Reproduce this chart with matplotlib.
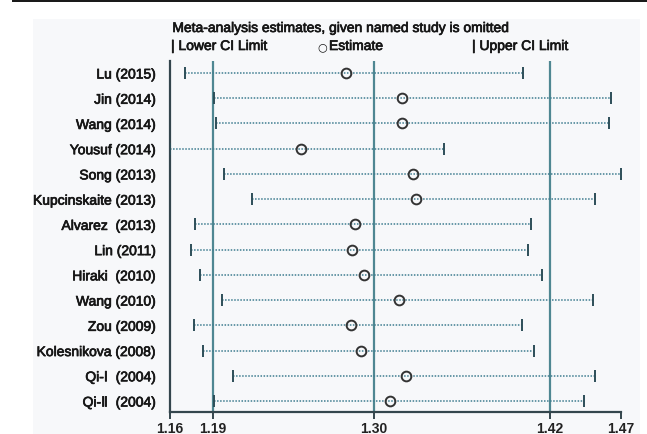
import matplotlib
matplotlib.use("Agg")
import matplotlib.pyplot as plt
import matplotlib.patheffects as pe
from matplotlib.patches import Rectangle

plt.rcParams['font.family'] = ['Liberation Sans', 'DejaVu Sans']

studies = ["Lu (2015)", "Jin (2014)", "Wang (2014)", "Yousuf (2014)", "Song (2013)",
           "Kupcinskaite (2013)", "Alvarez  (2013)", "Lin (2011)", "Hiraki  (2010)",
           "Wang (2010)", "Zou (2009)", "Kolesnikova (2008)", "Qi-\u2160  (2004)",
           "Qi-\u2161  (2004)"]
lower = [1.170, 1.190, 1.191, 1.1595, 1.197, 1.216, 1.177, 1.174, 1.180, 1.195,
         1.176, 1.182, 1.203, 1.190]
estimate = [1.281, 1.319, 1.319, 1.250, 1.327, 1.329, 1.287, 1.285, 1.293, 1.317,
            1.284, 1.291, 1.322, 1.311]
upper = [1.403, 1.463, 1.462, 1.3485, 1.4702, 1.452, 1.408, 1.406, 1.416, 1.451,
         1.402, 1.410, 1.452, 1.445]

overall_lower = 1.1891
overall_est = 1.2997
overall_upper = 1.4212
axis_ticks = [1.1595, overall_lower, overall_est, overall_upper, 1.4702]
axis_labels = ["1.16", "1.19", "1.30", "1.42", "1.47"]

W, H = 647, 435
fig = plt.figure(figsize=(W / 100, H / 100), dpi=100)
fig.patch.set_facecolor('white')

# faint panel and top rule
fig.patches.append(Rectangle((33 / W, 0), (640 - 33) / W, (H - 20) / H,
                             transform=fig.transFigure, facecolor='#f7f8fa',
                             edgecolor='none', zorder=-10))
fig.patches.append(Rectangle((12 / W, 1 - 3 / H), 1 - 12 / W, 3 / H,
                             transform=fig.transFigure, facecolor='#1a1a1a',
                             edgecolor='none', zorder=-10))

ax = fig.add_axes([170 / W, 22 / H, (621 - 170) / W, (413 - 62) / H])
ax.set_facecolor('none')

n = len(studies)
ypos = list(range(n))
line_col = '#3f7d90'
cap_col = '#2d4e58'
ref_col = '#4f8792'
axis_col = '#34464d'
txt_col = '#161616'
heavy = [pe.withStroke(linewidth=0.5, foreground=txt_col)]

for v in [overall_lower, overall_est, overall_upper]:
    ax.axvline(v, color=ref_col, lw=1.6, zorder=1)

for y, lo, est, hi in zip(ypos, lower, estimate, upper):
    ax.plot([lo, hi], [y, y], color=line_col, lw=1.1, ls=(0, (1, 1)), zorder=2)
    ax.plot([lo, hi], [y, y], ls='none', marker='|', ms=8, mew=1.4,
            color=cap_col, zorder=3)
    ax.plot([est], [y], ls='none', marker='o', ms=7, mfc='none', mec='#333333',
            mew=1.4, zorder=4)

ax.set_xlim(axis_ticks[0], axis_ticks[-1])
ax.set_ylim(n - 1 + 11 / 25.23, -12 / 25.23)
ax.set_xticks(axis_ticks)
ax.set_xticklabels(axis_labels, fontsize=10, fontweight='bold', color='#222222')
ax.set_yticks(ypos)
ax.set_yticklabels(studies, fontsize=10, color=txt_col)
for lbl in ax.get_yticklabels():
    lbl.set_path_effects(heavy)
ax.tick_params(axis='y', length=0, pad=10)
ax.tick_params(axis='x', length=5, width=1.4, color=axis_col, pad=1.5)
for s in ['top', 'right']:
    ax.spines[s].set_visible(False)
for s in ['left', 'bottom']:
    ax.spines[s].set_color(axis_col)
    ax.spines[s].set_linewidth(1.6)

fig.text(341 / W, 1 - 29 / H, "Meta-analysis estimates, given named study is omitted",
         ha='center', va='center', fontsize=10, color=txt_col, path_effects=heavy)
fig.text(171 / W, 1 - 47 / H, "| Lower CI Limit", ha='left', va='center',
         fontsize=10, color=txt_col, path_effects=heavy)
fig.text(317 / W, 1 - 47 / H, "\u25cb", ha='left', va='center', fontsize=8,
         color=txt_col, family=['DejaVu Sans'])
fig.text(329 / W, 1 - 47 / H, "Estimate", ha='left', va='center',
         fontsize=10, color=txt_col, path_effects=heavy)
fig.text(472 / W, 1 - 47 / H, "| Upper CI Limit", ha='left', va='center',
         fontsize=10, color=txt_col, path_effects=heavy)

fig.savefig("out.png", dpi=100)
